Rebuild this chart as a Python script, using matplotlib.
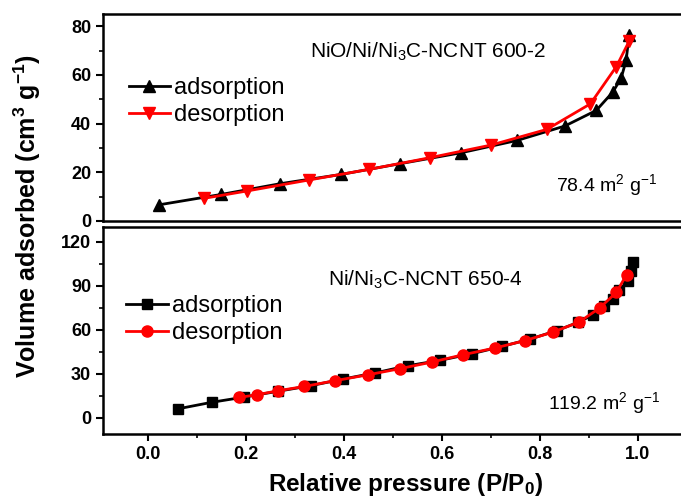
import matplotlib
matplotlib.use('Agg')
import matplotlib.pyplot as plt
from matplotlib.ticker import MultipleLocator

# 데이터 (NiO/Ni/Ni3C-NCNT 600-2)
top_ads_x = [0.022, 0.150, 0.270, 0.394, 0.514, 0.639, 0.754, 0.851, 0.915, 0.949, 0.966, 0.976, 0.982]
top_ads_y = [6.6, 10.9, 15.3, 19.1, 23.5, 28.0, 33.1, 39.0, 45.4, 53.0, 58.8, 66.0, 76.3]
top_des_x = [0.982, 0.956, 0.903, 0.814, 0.701, 0.576, 0.452, 0.328, 0.202, 0.115]
top_des_y = [73.8, 63.4, 48.1, 37.6, 31.2, 26.0, 21.2, 16.8, 12.3, 9.3]

# 데이터 (Ni/Ni3C-NCNT 650-4)
bot_ads_x = [0.062, 0.130, 0.197, 0.265, 0.332, 0.399, 0.463, 0.530, 0.596, 0.661, 0.723,
             0.780, 0.834, 0.878, 0.909, 0.931, 0.949, 0.962, 0.980, 0.985, 0.989]
bot_ads_y = [6.1, 10.5, 14.1, 18.0, 21.8, 26.4, 30.5, 35.4, 39.1, 43.6, 48.6,
             53.6, 59.3, 65.0, 70.2, 76.3, 81.1, 87.3, 92.9, 99.7, 106.1]
bot_des_x = [0.977, 0.956, 0.922, 0.880, 0.827, 0.769, 0.708, 0.643, 0.579, 0.514,
             0.450, 0.381, 0.319, 0.266, 0.223, 0.186]
bot_des_y = [97.5, 85.4, 74.8, 65.2, 58.4, 52.5, 47.5, 42.9, 37.9, 33.4,
             29.3, 25.2, 21.3, 18.4, 15.7, 13.8]

top_label = 'NiO/Ni/Ni$_3$C-NCNT 600-2'
bot_label = 'Ni/Ni$_3$C-NCNT 650-4'
top_area = '78.4 m$^2$ g$^{-1}$'
bot_area = '119.2 m$^2$ g$^{-1}$'
x_ticks = [0.0, 0.2, 0.4, 0.6, 0.8, 1.0]

plt.rcParams['font.family'] = ['Liberation Sans', 'DejaVu Sans']
plt.rcParams['mathtext.fontset'] = 'custom'
plt.rcParams['mathtext.rm'] = 'Liberation Sans'
plt.rcParams['mathtext.it'] = 'Liberation Sans'
plt.rcParams['mathtext.bf'] = 'Liberation Sans:bold'

fig = plt.figure(figsize=(6.81, 5.01), dpi=100)
x_min, x_max = -0.092, 1.106
ax1 = fig.add_axes([0.151, 0.559, 0.862, 0.413])
ax2 = fig.add_axes([0.151, 0.134, 0.862, 0.413])

for ax in (ax1, ax2):
    ax.set_xlim(x_min, x_max)
    for s in ax.spines.values():
        s.set_linewidth(1.8)
    ax.tick_params(which='major', direction='out', length=5, width=1.5, labelsize=13)
    ax.tick_params(which='minor', direction='out', length=3, width=1.2)

leg_kw = dict(frameon=False, prop={'size': 17}, handlelength=1.75,
              handletextpad=0.17, labelspacing=0.2, borderaxespad=0, borderpad=0)

# 상단 패널
ax1.plot(top_ads_x, top_ads_y, color='black', lw=2, marker='^', ms=8, label='adsorption')
ax1.plot(top_des_x, top_des_y, color='red', lw=2, marker='v', ms=8, label='desorption')
ax1.set_ylim(0, 85)
ax1.yaxis.set_major_locator(MultipleLocator(20))
ax1.yaxis.set_minor_locator(MultipleLocator(10))
ax1.set_xticks([])
ax1.tick_params(axis='x', which='both', bottom=False, labelbottom=False)
ax1.text(0.554, 0.816, top_label, transform=ax1.transAxes, ha='center', va='center',
         fontsize=15)
ax1.text(0.944, 0.174, top_area, transform=ax1.transAxes, ha='right', va='center',
         fontsize=14)
ax1.legend(loc='center left', bbox_to_anchor=(0.044, 0.577), **leg_kw)

# 하단 패널
ax2.plot(bot_ads_x, bot_ads_y, color='black', lw=2, marker='s', ms=7, label='adsorption')
ax2.plot(bot_des_x, bot_des_y, color='red', lw=2, marker='o', ms=8, label='desorption')
ax2.set_ylim(-11, 130)
ax2.yaxis.set_major_locator(MultipleLocator(30))
ax2.yaxis.set_minor_locator(MultipleLocator(15))
ax2.xaxis.set_minor_locator(MultipleLocator(0.1))
ax2.set_xticks(x_ticks)
ax2.set_xticklabels([f'{t:.1f}' for t in x_ticks], fontweight='bold')
ax2.text(0.549, 0.744, bot_label, transform=ax2.transAxes, ha='center', va='center',
         fontsize=15)
ax2.text(0.949, 0.15, bot_area, transform=ax2.transAxes, ha='right', va='center',
         fontsize=14)
ax2.legend(loc='center left', bbox_to_anchor=(0.040, 0.553), **leg_kw)

for ax in (ax1, ax2):
    for lab in ax.get_yticklabels():
        lab.set_fontweight('bold')

# 축 라벨
fig.text(0.040, 0.569, 'Volume adsorbed (cm$^\\mathbf{3}$ g$^\\mathbf{-1}$)', rotation=90,
         ha='center', va='center', fontsize=18, fontweight='bold')
fig.text(0.595, 0.032, 'Relative pressure (P/P$_\\mathbf{0}$)', ha='center', va='center',
         fontsize=17.5, fontweight='bold')

plt.savefig('out.png', dpi=100)
